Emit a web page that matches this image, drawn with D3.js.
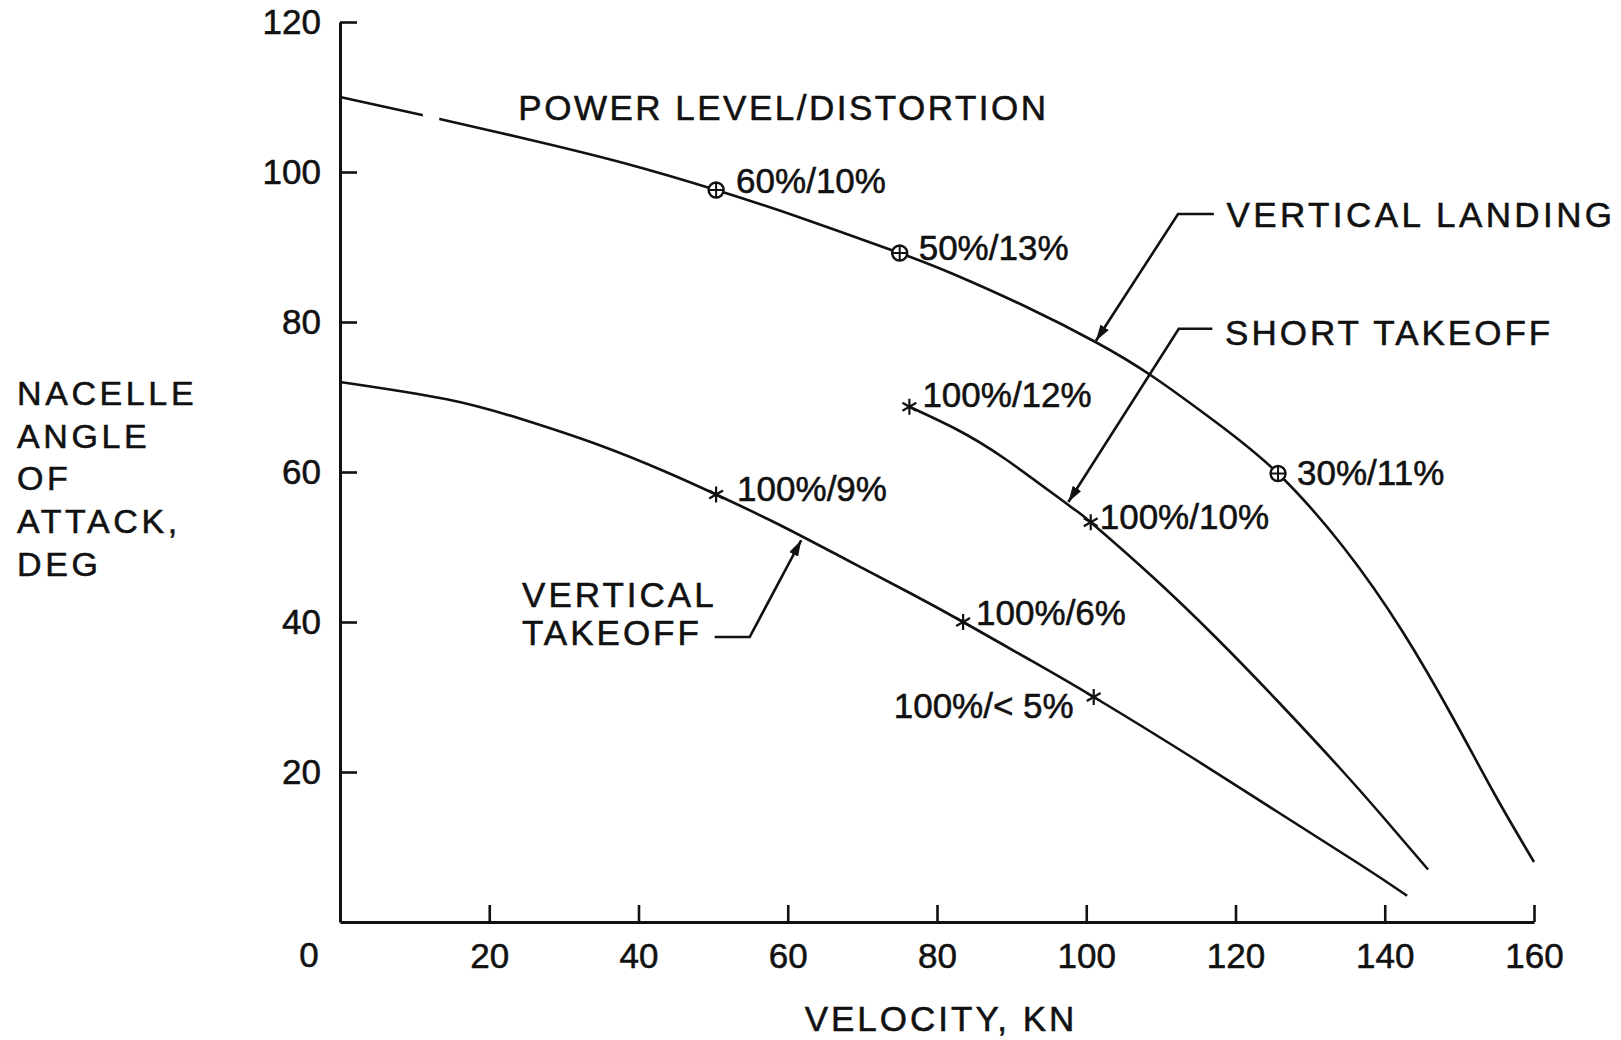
<!DOCTYPE html>
<html><head><meta charset="utf-8">
<script src="https://cdn.jsdelivr.net/npm/d3@7"></script>
<style>
html,body{margin:0;padding:0;background:#fff;}
svg text{font-family:"Liberation Sans",Arial,Helvetica,sans-serif;fill:#111;stroke:#111;stroke-width:0.55px;}
</style></head><body>
<svg id="chart" width="1621" height="1040"></svg>
<script>
// ---------- data ----------
const xTicks = [20, 40, 60, 80, 100, 120, 140, 160];
const yTicks = [20, 40, 60, 80, 100, 120];
const xTitle = "VELOCITY, KN";
const yTitleLines = ["NACELLE", "ANGLE", "OF", "ATTACK,", "DEG"];
const chartNote = "POWER LEVEL/DISTORTION";

// velocity (kn), nacelle angle (deg)
const verticalLanding = [[0,110],[11,107.6],[25,104.4],[38,101.2],[50.4,97.6],[62,93.8],[75,89.2],[82.4,86.3],[92,82.0],[101.3,77.3],[108.8,72.8],[117.3,66.7],[125.7,59.8],[134.6,49.8],[142.4,38.7],[149.1,27.3],[154.8,16.9],[160,8]];
const shortTakeoff = [[76.3,68.7],[82.4,65.8],[89.2,61.7],[97.6,55.6],[100.6,53.3],[108.8,46.1],[117.3,38.0],[125.6,29.5],[134,20.5],[139.6,14.2],[145.8,7]];
const verticalTakeoff = [[0,72],[14.3,69.7],[24.5,67.0],[34.7,63.6],[43.7,60.0],[50.4,57.0],[58.6,53.1],[67.5,48.5],[76.5,43.8],[83.5,40.0],[92,35.2],[101,30.0],[114.4,21.8],[125.6,14.7],[136.8,7.6],[143,3.5]];
const vlGap = [11.1, 13.3]; // scan gap in vertical landing curve

const vlPoints = [[50.4,97.6,"60%/10%"],[75,89.2,"50%/13%"],[125.7,59.8,"30%/11%"]];
const stPoints = [[76.3,68.7,"100%/12%"],[100.6,53.3,"100%/10%"]];
const vtPoints = [[50.4,57.0,"100%/9%"],[83.5,40.0,"100%/6%"],[101,30.0,"100%/< 5%"]];

// curve name labels with leader lines
const curveLabels = [
  {lines:["VERTICAL LANDING"], tx:118.8, ty:92.7, ls:3.4, leader:[[117.1,94.4],[112.3,94.4],[101.3,77.5]]},
  {lines:["SHORT TAKEOFF"], tx:118.6, ty:76.9, ls:3, leader:[[116.9,79.1],[112.4,79.1],[97.6,56.0]]},
  {lines:["VERTICAL","TAKEOFF"], tx:24.4, ty:42.0, ls:3, leader:[[50.2,38.0],[54.9,38.0],[61.8,50.9]]}
];
const noteAt = [23.9, 106.9];

// ---------- layout ----------
const W = 1621, H = 1040;
const svg = d3.select("#chart");
const x = d3.scaleLinear().domain([0,160]).range([340,1534]);
const y = d3.scaleLinear().domain([0,120]).range([922,22]);
const FS = 35;

// label offsets (px) relative to marker
const labelOffsets = {
  "60%/10%":[20,3,"start"], "50%/13%":[19,7,"start"], "30%/11%":[19,11,"start"],
  "100%/12%":[13,0,"start"], "100%/10%":[9,7,"start"],
  "100%/9%":[21,6,"start"], "100%/6%":[13,3,"start"], "100%/< 5%":[-20,21,"end"]
};

// ---------- axes ----------
const yAxis = d3.axisLeft(y).tickValues(yTicks).tickSize(-17).tickSizeOuter(0).tickPadding(19);
const xAxis = d3.axisBottom(x).tickValues(xTicks).tickSize(-17).tickSizeOuter(0).tickPadding(21);
const gy = svg.append("g").attr("transform", `translate(${x(0)},0)`).call(yAxis);
const gx = svg.append("g").attr("transform", `translate(0,${y(0)})`).call(xAxis);
[gx, gy].forEach(g => {
  g.select(".domain").attr("stroke","#111").attr("stroke-width",3);
  g.selectAll(".tick line").attr("stroke","#111").attr("stroke-width",2.6);
  g.selectAll(".tick text").attr("font-size",FS).attr("fill","#111")
    .attr("font-family",'"Liberation Sans",Arial,sans-serif');
});
// shared origin label
svg.append("text").attr("x", x(0)-31).attr("y", y(0)+45).attr("text-anchor","middle")
  .attr("font-size",FS).text("0");

// axis titles
svg.append("text").attr("x", (x(0)+x(160))/2 + 4).attr("y", 1031).attr("text-anchor","middle")
  .attr("font-size",FS).attr("letter-spacing",3).text(xTitle);
svg.append("text").attr("font-size",34).attr("letter-spacing",3.6)
  .selectAll("tspan").data(yTitleLines).join("tspan")
  .attr("x",17).attr("y",(d,i)=>405+i*42.7).text(d=>d);

// note
svg.append("text").attr("x", x(noteAt[0])).attr("y", y(noteAt[1]))
  .attr("font-size",FS).attr("letter-spacing",2.5).text(chartNote);

// ---------- curves ----------
const line = d3.line().x(d=>x(d[0])).y(d=>y(d[1])).curve(d3.curveNatural);
const defs = svg.append("defs");
const cp = defs.append("clipPath").attr("id","vlclip");
cp.append("rect").attr("x",0).attr("y",0).attr("width",x(vlGap[0])).attr("height",H);
cp.append("rect").attr("x",x(vlGap[1])).attr("y",0).attr("width",W-x(vlGap[1])).attr("height",H);

svg.append("path").attr("d", line(verticalLanding)).attr("fill","none").attr("stroke","#111")
  .attr("stroke-width",2.6).attr("clip-path","url(#vlclip)");
[shortTakeoff, verticalTakeoff].forEach(s => {
  svg.append("path").attr("d", line(s)).attr("fill","none").attr("stroke","#111").attr("stroke-width",2.6);
});

// ---------- markers ----------
function circleMark(d){
  const g = svg.append("g").attr("transform",`translate(${x(d[0])},${y(d[1])})`);
  g.append("circle").attr("r",7.5).attr("fill","#fff").attr("stroke","#111").attr("stroke-width",2.4);
  g.append("line").attr("x1",-7.5).attr("x2",7.5).attr("stroke","#111").attr("stroke-width",2);
  g.append("line").attr("y1",-7.5).attr("y2",7.5).attr("stroke","#111").attr("stroke-width",2);
}
function starMark(d){
  const g = svg.append("g").attr("transform",`translate(${x(d[0])},${y(d[1])})`);
  [90, 30, 150].forEach(a => {
    const r = a*Math.PI/180, L = 8;
    g.append("line").attr("x1",-L*Math.cos(r)).attr("y1",-L*Math.sin(r))
      .attr("x2",L*Math.cos(r)).attr("y2",L*Math.sin(r)).attr("stroke","#111").attr("stroke-width",2.2);
  });
}
vlPoints.forEach(circleMark);
stPoints.concat(vtPoints).forEach(starMark);
vlPoints.concat(stPoints, vtPoints).forEach(d => {
  const o = labelOffsets[d[2]];
  svg.append("text").attr("x", x(d[0])+o[0]).attr("y", y(d[1])+o[1])
    .attr("text-anchor", o[2]).attr("font-size",FS).text(d[2]);
});

// ---------- curve labels with leaders ----------
defs.append("marker").attr("id","arrow").attr("viewBox","0 0 16 10").attr("refX",16).attr("refY",5)
  .attr("markerWidth",16).attr("markerHeight",10).attr("markerUnits","userSpaceOnUse").attr("orient","auto")
  .append("path").attr("d","M0,0 L16,5 L0,10 Z").attr("fill","#111");
curveLabels.forEach(c => {
  const t = svg.append("text").attr("font-size",FS).attr("letter-spacing",c.ls);
  t.selectAll("tspan").data(c.lines).join("tspan")
    .attr("x", x(c.tx)).attr("y",(d,i)=>y(c.ty)+i*38).text(d=>d);
  svg.append("path").attr("d", d3.line().x(d=>x(d[0])).y(d=>y(d[1]))(c.leader))
    .attr("fill","none").attr("stroke","#111").attr("stroke-width",2.6).attr("marker-end","url(#arrow)");
});
</script>
</body></html>
